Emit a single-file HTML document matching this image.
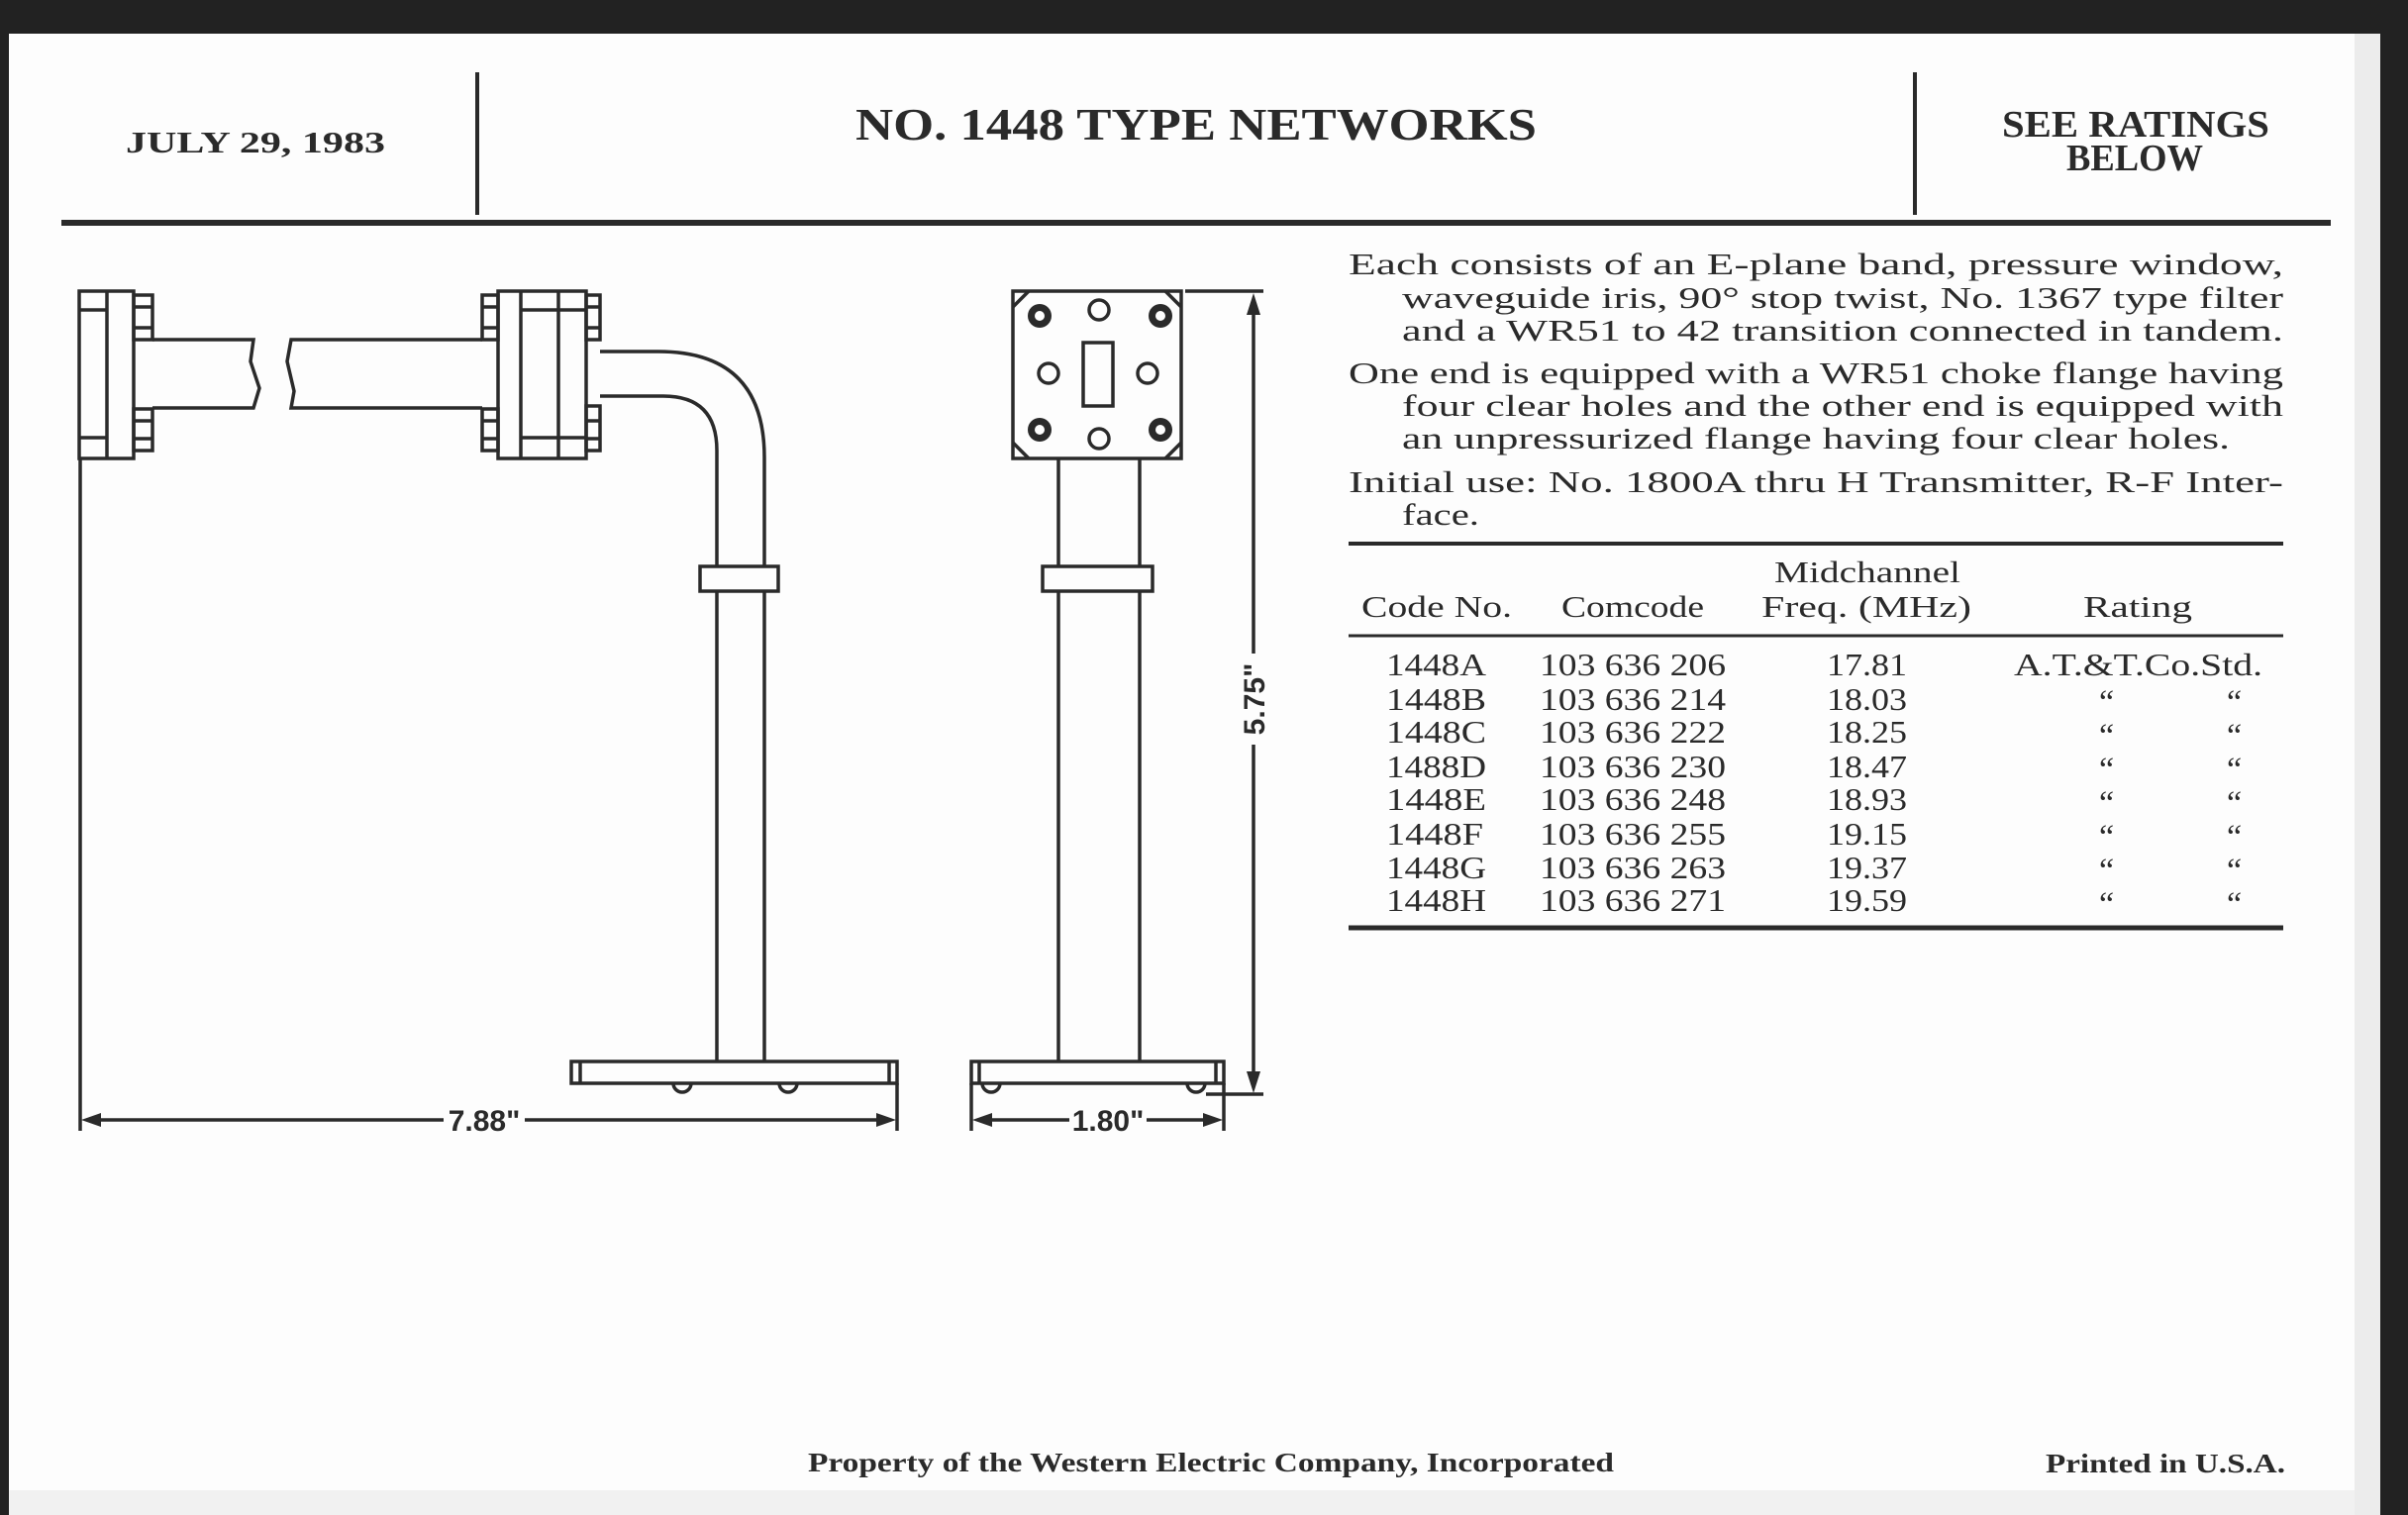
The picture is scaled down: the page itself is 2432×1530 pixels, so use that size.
<!DOCTYPE html>
<html><head><meta charset="utf-8"><style>
html,body{margin:0;padding:0;background:#fff}
svg{display:block}
text{font-family:"Liberation Serif",serif;fill:#2a2a2a}
.b{font-weight:bold}
.s{font-family:"Liberation Sans",sans-serif}
</style></head><body>
<svg width="2432" height="1530" viewBox="0 0 2432 1530" xmlns="http://www.w3.org/2000/svg">
<rect x="0" y="0" width="2432" height="1530" fill="#fdfdfd"/>
<rect x="0" y="0" width="2432" height="34" fill="#222"/>
<rect x="0" y="0" width="9" height="1530" fill="#222"/>
<rect x="2404" y="0" width="28" height="1530" fill="#222"/>
<rect x="2378" y="34" width="26" height="1496" fill="#ececec"/>
<rect x="9" y="1505" width="2369" height="25" fill="#f1f1f1"/>

<!-- header -->
<line x1="482" y1="73" x2="482" y2="217" stroke="#2a2a2a" stroke-width="4"/>
<line x1="1934" y1="73" x2="1934" y2="217" stroke="#2a2a2a" stroke-width="4"/>
<line x1="62" y1="225" x2="2354" y2="225" stroke="#2a2a2a" stroke-width="6"/>
<text x="127" y="154" class="b" font-size="31" textLength="262" lengthAdjust="spacingAndGlyphs">JULY 29, 1983</text>
<text x="864" y="141" class="b" font-size="46" textLength="688" lengthAdjust="spacingAndGlyphs">NO. 1448 TYPE NETWORKS</text>
<text x="2022" y="138" class="b" font-size="38" textLength="270" lengthAdjust="spacingAndGlyphs">SEE RATINGS</text>
<text x="2087" y="172" class="b" font-size="38" textLength="138" lengthAdjust="spacingAndGlyphs">BELOW</text>

<!-- description -->
<g font-size="31">
<text x="1362" y="277" textLength="944" lengthAdjust="spacingAndGlyphs">Each consists of an E-plane band, pressure window,</text>
<text x="1416" y="311" textLength="890" lengthAdjust="spacingAndGlyphs">waveguide iris, 90° stop twist, No. 1367 type filter</text>
<text x="1416" y="344" textLength="890" lengthAdjust="spacingAndGlyphs">and a WR51 to 42 transition connected in tandem.</text>
<text x="1362" y="387" textLength="944" lengthAdjust="spacingAndGlyphs">One end is equipped with a WR51 choke flange having</text>
<text x="1416" y="420" textLength="890" lengthAdjust="spacingAndGlyphs">four clear holes and the other end is equipped with</text>
<text x="1416" y="453" textLength="836" lengthAdjust="spacingAndGlyphs">an unpressurized flange having four clear holes.</text>
<text x="1362" y="497" textLength="944" lengthAdjust="spacingAndGlyphs">Initial use: No. 1800A thru H Transmitter, R-F Inter-</text>
<text x="1416" y="530" textLength="78" lengthAdjust="spacingAndGlyphs">face.</text>
</g>

<!-- table -->
<line x1="1362" y1="549" x2="2306" y2="549" stroke="#2a2a2a" stroke-width="4"/>
<line x1="1362" y1="642" x2="2306" y2="642" stroke="#2a2a2a" stroke-width="3"/>
<line x1="1362" y1="937" x2="2306" y2="937" stroke="#2a2a2a" stroke-width="5"/>
<g font-size="31">
<text x="1792" y="588" textLength="188" lengthAdjust="spacingAndGlyphs">Midchannel</text>
<text x="1375" y="623" textLength="152" lengthAdjust="spacingAndGlyphs">Code No.</text>
<text x="1577" y="623" textLength="144" lengthAdjust="spacingAndGlyphs">Comcode</text>
<text x="1779" y="623" textLength="212" lengthAdjust="spacingAndGlyphs">Freq. (MHz)</text>
<text x="2104" y="623" textLength="110" lengthAdjust="spacingAndGlyphs">Rating</text>
</g>
<g font-size="32">
<text x="1400" y="682" textLength="101" lengthAdjust="spacingAndGlyphs">1448A</text>
<text x="1400" y="717" textLength="101" lengthAdjust="spacingAndGlyphs">1448B</text>
<text x="1400" y="750" textLength="101" lengthAdjust="spacingAndGlyphs">1448C</text>
<text x="1400" y="785" textLength="101" lengthAdjust="spacingAndGlyphs">1488D</text>
<text x="1400" y="818" textLength="101" lengthAdjust="spacingAndGlyphs">1448E</text>
<text x="1400" y="853" textLength="98" lengthAdjust="spacingAndGlyphs">1448F</text>
<text x="1400" y="887" textLength="101" lengthAdjust="spacingAndGlyphs">1448G</text>
<text x="1400" y="920" textLength="101" lengthAdjust="spacingAndGlyphs">1448H</text>
<text x="1555" y="682" textLength="188" lengthAdjust="spacingAndGlyphs">103 636 206</text>
<text x="1555" y="717" textLength="188" lengthAdjust="spacingAndGlyphs">103 636 214</text>
<text x="1555" y="750" textLength="188" lengthAdjust="spacingAndGlyphs">103 636 222</text>
<text x="1555" y="785" textLength="188" lengthAdjust="spacingAndGlyphs">103 636 230</text>
<text x="1555" y="818" textLength="188" lengthAdjust="spacingAndGlyphs">103 636 248</text>
<text x="1555" y="853" textLength="188" lengthAdjust="spacingAndGlyphs">103 636 255</text>
<text x="1555" y="887" textLength="188" lengthAdjust="spacingAndGlyphs">103 636 263</text>
<text x="1555" y="920" textLength="188" lengthAdjust="spacingAndGlyphs">103 636 271</text>
<text x="1845" y="682" textLength="81" lengthAdjust="spacingAndGlyphs">17.81</text>
<text x="1845" y="717" textLength="81" lengthAdjust="spacingAndGlyphs">18.03</text>
<text x="1845" y="750" textLength="81" lengthAdjust="spacingAndGlyphs">18.25</text>
<text x="1845" y="785" textLength="81" lengthAdjust="spacingAndGlyphs">18.47</text>
<text x="1845" y="818" textLength="81" lengthAdjust="spacingAndGlyphs">18.93</text>
<text x="1845" y="853" textLength="81" lengthAdjust="spacingAndGlyphs">19.15</text>
<text x="1845" y="887" textLength="81" lengthAdjust="spacingAndGlyphs">19.37</text>
<text x="1845" y="920" textLength="81" lengthAdjust="spacingAndGlyphs">19.59</text>
<text x="2034" y="682" textLength="251" lengthAdjust="spacingAndGlyphs">A.T.&amp;T.Co.Std.</text>
</g>
<g font-size="34">
<text x="2120" y="720">“</text><text x="2249" y="720">“</text>
<text x="2120" y="754">“</text><text x="2249" y="754">“</text>
<text x="2120" y="788">“</text><text x="2249" y="788">“</text>
<text x="2120" y="822">“</text><text x="2249" y="822">“</text>
<text x="2120" y="856">“</text><text x="2249" y="856">“</text>
<text x="2120" y="890">“</text><text x="2249" y="890">“</text>
<text x="2120" y="924">“</text><text x="2249" y="924">“</text>
</g>

<!-- drawing -->
<g fill="none" stroke="#2a2a2a" stroke-width="3.5">
<rect x="80" y="294" width="55" height="169"/>
<line x1="108" y1="294" x2="108" y2="463"/>
<line x1="80" y1="313" x2="108" y2="313"/>
<line x1="80" y1="442" x2="108" y2="442"/>
<rect x="135" y="298" width="19" height="45"/>
<line x1="135" y1="310" x2="154" y2="310"/><line x1="135" y1="331" x2="154" y2="331"/>
<rect x="135" y="413" width="19" height="42"/>
<line x1="135" y1="425" x2="154" y2="425"/><line x1="135" y1="443" x2="154" y2="443"/>
<path d="M154 343 L256 343 L253 365 L262 392 L256 412 L154 412"/>
<path d="M487 343 L294 343 L290 365 L297 395 L294 412 L487 412"/>
<rect x="487" y="298" width="16" height="45"/>
<line x1="487" y1="310" x2="503" y2="310"/><line x1="487" y1="331" x2="503" y2="331"/>
<rect x="487" y="413" width="16" height="42"/>
<line x1="487" y1="425" x2="503" y2="425"/><line x1="487" y1="443" x2="503" y2="443"/>
<rect x="503" y="294" width="89" height="169"/>
<line x1="526" y1="294" x2="526" y2="463"/>
<line x1="564" y1="294" x2="564" y2="463"/>
<line x1="526" y1="313" x2="592" y2="313"/>
<line x1="526" y1="442" x2="592" y2="442"/>
<rect x="592" y="298" width="14" height="45"/>
<line x1="592" y1="310" x2="606" y2="310"/><line x1="592" y1="331" x2="606" y2="331"/>
<rect x="592" y="410" width="14" height="45"/>
<line x1="592" y1="425" x2="606" y2="425"/><line x1="592" y1="443" x2="606" y2="443"/>
<path d="M606 355 L665 355 Q772 355 772 462 L772 1072"/>
<path d="M606 400 L670 400 Q724 400 724 455 L724 1072"/>
<rect x="707" y="572" width="79" height="25" fill="#fdfdfd"/>
<rect x="577" y="1072" width="329" height="22"/>
<line x1="586" y1="1072" x2="586" y2="1094"/><line x1="898" y1="1072" x2="898" y2="1094"/>
<path d="M680 1094 A9 9 0 0 0 698 1094"/>
<path d="M787 1094 A9 9 0 0 0 805 1094"/>
<line x1="81" y1="463" x2="81" y2="1142"/>
<line x1="906" y1="1094" x2="906" y2="1142"/>
<line x1="90" y1="1131" x2="448" y2="1131"/>
<line x1="530" y1="1131" x2="896" y2="1131"/>

<rect x="1023" y="294" width="170" height="169"/>
<line x1="1023" y1="310" x2="1039" y2="294"/>
<line x1="1177" y1="294" x2="1193" y2="310"/>
<line x1="1023" y1="447" x2="1039" y2="463"/>
<line x1="1177" y1="463" x2="1193" y2="447"/>
<rect x="1094" y="346" width="30" height="64"/>
<circle cx="1110" cy="313" r="10"/>
<circle cx="1110" cy="443" r="10"/>
<circle cx="1059" cy="377" r="10"/>
<circle cx="1159" cy="377" r="10"/>
<line x1="1069" y1="463" x2="1069" y2="1072"/>
<line x1="1151" y1="463" x2="1151" y2="1072"/>
<rect x="1053" y="572" width="111" height="25" fill="#fdfdfd"/>
<rect x="981" y="1072" width="255" height="22"/>
<line x1="989" y1="1072" x2="989" y2="1094"/><line x1="1228" y1="1072" x2="1228" y2="1094"/>
<path d="M992 1094 A9 9 0 0 0 1010 1094"/>
<path d="M1199 1094 A9 9 0 0 0 1217 1094"/>
<line x1="981" y1="1094" x2="981" y2="1142"/>
<line x1="1236" y1="1094" x2="1236" y2="1142"/>
<line x1="990" y1="1131" x2="1080" y2="1131"/>
<line x1="1158" y1="1131" x2="1228" y2="1131"/>
<line x1="1197" y1="294" x2="1276" y2="294"/>
<line x1="1218" y1="1105" x2="1276" y2="1105"/>
<line x1="1266" y1="302" x2="1266" y2="660"/>
<line x1="1266" y1="752" x2="1266" y2="1097"/>
</g>
<g fill="#2a2a2a">
<circle cx="1050" cy="319" r="12"/><circle cx="1172" cy="319" r="12"/>
<circle cx="1050" cy="434" r="12"/><circle cx="1172" cy="434" r="12"/>
</g>
<g fill="#fdfdfd">
<circle cx="1050" cy="319" r="5"/><circle cx="1172" cy="319" r="5"/>
<circle cx="1050" cy="434" r="5"/><circle cx="1172" cy="434" r="5"/>
</g>
<g fill="#2a2a2a">
<polygon points="82,1131 102,1124 102,1138"/>
<polygon points="905,1131 885,1124 885,1138"/>
<polygon points="982,1131 1002,1124 1002,1138"/>
<polygon points="1235,1131 1215,1124 1215,1138"/>
<polygon points="1266,296 1259,318 1273,318"/>
<polygon points="1266,1104 1259,1082 1273,1082"/>
</g>
<text x="489" y="1142" class="s b" font-size="30" text-anchor="middle">7.88"</text>
<text x="1119" y="1142" class="s b" font-size="30" text-anchor="middle">1.80"</text>
<text transform="translate(1277 706) rotate(-90)" class="s b" font-size="30" text-anchor="middle">5.75"</text>

<text x="816" y="1486" class="b" font-size="27" textLength="814" lengthAdjust="spacingAndGlyphs">Property of the Western Electric Company, Incorporated</text>
<text x="2066" y="1487" class="b" font-size="27" textLength="242" lengthAdjust="spacingAndGlyphs">Printed in U.S.A.</text>
</svg>
</body></html>
